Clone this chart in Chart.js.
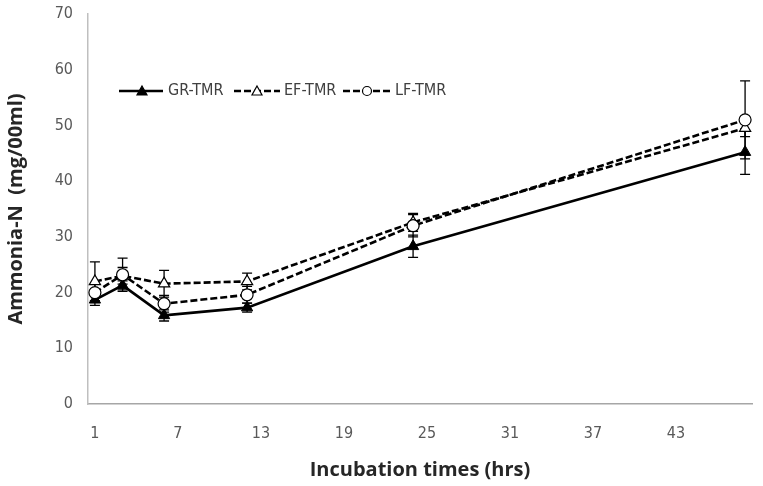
<!DOCTYPE html>
<html>
<head>
<meta charset="utf-8">
<script src="https://cdn.jsdelivr.net/npm/chart.js@4.4.0/dist/chart.umd.min.js"></script>
<style>
  html, body { margin: 0; padding: 0; background: #fff; }
  #wrap { width: 763px; height: 486px; }
</style>
</head>
<body>
<div id="wrap"><canvas id="grafico" width="763" height="486"></canvas></div>
<script>
// datos
const horas = [1, 3, 6, 12, 24, 48];
const ticksX = [1, 7, 13, 19, 25, 31, 37, 43];
const series = ['GR-TMR', 'EF-TMR', 'LF-TMR'];

const grTmr = [18.7, 21.3, 15.9, 17.3, 28.3, 45.2];
const efTmr = [22.0, 23.0, 21.6, 22.0, 32.6, 49.5];
const lfTmr = [20.0, 23.2, 18.0, 19.6, 32.0, 51.0];

const grErr = [1.0, 0.8, 1.0, 0.8, 2.0, 4.0];
const efErr = [3.5, 1.5, 2.4, 1.5, 1.6, 1.5];
const lfErr = [1.5, 3.0, 1.5, 1.5, 2.0, 7.0];

const fuente = "'Liberation Sans Narrow', 'DejaVu Sans Condensed', sans-serif";

function puntos(valores) {
    return horas.map((h, i) => ({ x: h, y: valores[i] }));
}

// barras de error dibujadas con las escalas del grafico
const barrasError = {
    id: 'barrasError',
    beforeDatasetsDraw(chart) {
        const ctx = chart.ctx;
        const xs = chart.scales.x;
        const ys = chart.scales.y;
        chart.data.datasets.forEach(ds => {
            ctx.save();
            ctx.strokeStyle = '#000';
            ctx.lineWidth = 1.3;
            ds.data.forEach((p, i) => {
                const e = ds.errores[i];
                if (!e) return;
                const px = xs.getPixelForValue(p.x);
                const arriba = ys.getPixelForValue(p.y + e);
                const abajo = ys.getPixelForValue(p.y - e);
                ctx.beginPath();
                ctx.moveTo(px, arriba);
                ctx.lineTo(px, abajo);
                ctx.moveTo(px - 5, arriba);
                ctx.lineTo(px + 5, arriba);
                ctx.moveTo(px - 5, abajo);
                ctx.lineTo(px + 5, abajo);
                ctx.stroke();
            });
            ctx.restore();
        });
    }
};

// leyenda con muestra de linea y marcador
const leyenda = {
    id: 'leyenda',
    afterDraw(chart) {
        const ctx = chart.ctx;
        const y = 91;
        const items = [
            { x0: 119, x1: 163, m: 142, tx: 168 },
            { x0: 234, x1: 280, m: 257, tx: 284 },
            { x0: 343, x1: 392, m: 367, tx: 395 }
        ];
        chart.data.datasets.forEach((ds, i) => {
            const it = items[i];
            ctx.save();
            ctx.strokeStyle = '#000';
            ctx.lineWidth = 2.5;
            ctx.setLineDash(ds.borderDash || []);
            ctx.beginPath();
            ctx.moveTo(it.x0, y);
            ctx.lineTo(it.x1, y);
            ctx.stroke();
            ctx.setLineDash([]);
            ctx.fillStyle = ds.pointBackgroundColor;
            ctx.lineWidth = 1.2;
            ctx.beginPath();
            if (ds.pointStyle === 'circle') {
                ctx.arc(it.m, y, 4.5, 0, Math.PI * 2);
            } else {
                ctx.moveTo(it.m, y - 5);
                ctx.lineTo(it.m + 5, y + 4);
                ctx.lineTo(it.m - 5, y + 4);
                ctx.closePath();
            }
            ctx.fill();
            ctx.stroke();
            ctx.fillStyle = '#404040';
            ctx.font = '16px ' + fuente;
            ctx.textBaseline = 'middle';
            ctx.fillText(ds.label, it.tx, y);
            ctx.restore();
        });
    }
};

const ctx = document.getElementById('grafico').getContext('2d');
new Chart(ctx, {
    type: 'line',
    data: {
        datasets: [
            {
                label: series[0],
                data: puntos(grTmr),
                errores: grErr,
                borderColor: '#000',
                borderWidth: 2.6,
                pointStyle: 'triangle',
                pointRadius: 6.5,
                pointBackgroundColor: '#000',
                pointBorderColor: '#000',
                pointBorderWidth: 1,
                order: 3
            },
            {
                label: series[1],
                data: puntos(efTmr),
                errores: efErr,
                borderColor: '#000',
                borderWidth: 2.6,
                borderDash: [7, 3],
                pointStyle: 'triangle',
                pointRadius: 6.5,
                pointBackgroundColor: '#fff',
                pointBorderColor: '#000',
                pointBorderWidth: 1.2,
                order: 2
            },
            {
                label: series[2],
                data: puntos(lfTmr),
                errores: lfErr,
                borderColor: '#000',
                borderWidth: 2.6,
                borderDash: [7, 3],
                pointStyle: 'circle',
                pointRadius: 6,
                pointBackgroundColor: '#fff',
                pointBorderColor: '#000',
                pointBorderWidth: 1.2,
                order: 1
            }
        ]
    },
    options: {
        responsive: false,
        animation: false,
        layout: { padding: { top: 14, right: 11, left: 0, bottom: 0 } },
        plugins: {
            legend: { display: false },
            tooltip: { enabled: false }
        },
        scales: {
            x: {
                type: 'linear',
                min: 0.5,
                max: 48.5,
                afterBuildTicks: scale => { scale.ticks = ticksX.map(v => ({ value: v })); },
                afterFit: scale => { scale.height = 82; scale.paddingLeft = 0; scale.paddingRight = 0; },
                grid: { display: false, drawTicks: false },
                border: { color: '#a6a6a6', width: 1.5 },
                ticks: {
                    padding: 20,
                    color: '#595959',
                    font: { family: fuente, size: 16 }
                },
                title: {
                    display: true,
                    text: 'Incubation times (hrs)',
                    color: '#262626',
                    font: { family: 'Open Sans', size: 20, weight: 'bold' },
                    padding: { top: 0 }
                }
            },
            y: {
                min: 0,
                max: 70,
                afterFit: scale => { scale.width = 88; scale.paddingTop = 0; scale.paddingBottom = 0; },
                grid: { display: false, drawTicks: false },
                border: { color: '#bfbfbf', width: 1.5 },
                ticks: {
                    stepSize: 10,
                    padding: 15,
                    color: '#595959',
                    font: { family: fuente, size: 16 }
                },
                title: {
                    display: true,
                    text: 'Ammonia-N  (mg/00ml)',
                    color: '#262626',
                    font: { family: 'Open Sans', size: 20, weight: 'bold' },
                    padding: { bottom: 4 }
                }
            }
        }
    },
    plugins: [barrasError, leyenda]
});
</script>
</body>
</html>
